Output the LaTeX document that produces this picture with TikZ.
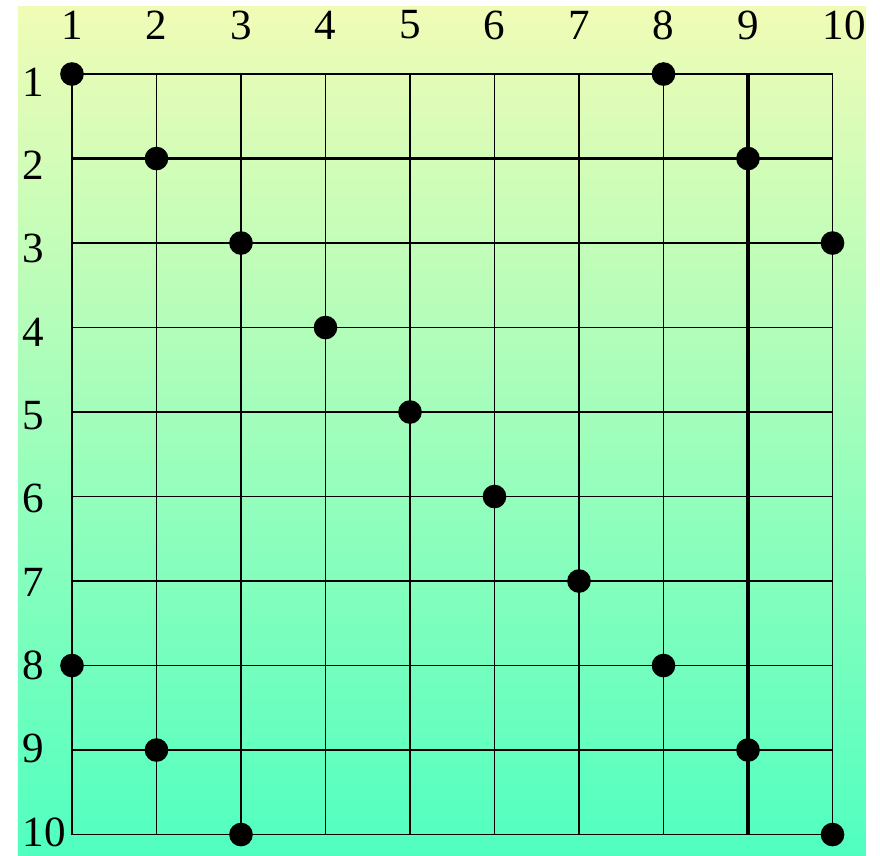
\documentclass[tikz,border=0pt]{standalone}
\usepackage{fontspec}
\setmainfont{Liberation Serif}
\usetikzlibrary{positioning}
\definecolor{bgtop}{RGB}{240,252,182}
\definecolor{bgbottom}{RGB}{80,255,192}

\begin{document}
\begin{tikzpicture}[x=1cm, y=-1cm]
\tikzstyle{gridline}=[line width=0.6pt, black]
\tikzstyle{heavy}=[line width=1.3pt, black]
\tikzstyle{queen}=[circle, fill=black, inner sep=0pt, minimum size=0.28cm]
\tikzstyle{lbl}=[font=\fontsize{14.5}{17}\selectfont, inner sep=0pt]

\useasboundingbox (-0.852,-0.876) rectangle (9.562,9.243);
\shade[top color=bgtop, bottom color=bgbottom] (-0.639,-0.805) rectangle (9.396,9.243);

% board
\foreach \i in {0,...,9} {
  \draw[gridline] (\i,0) -- (\i,9);
  \draw[gridline] (0,\i) -- (9,\i);
}
\draw[heavy] (0,1) -- (9,1);
\draw[heavy] (8,0) -- (8,9);

% numbering
\foreach \i in {1,...,10} {
  \node[lbl] (col\i) at ({\i-1+(\i==10)*0.14},-0.58) {\i};
  \node[lbl, anchor=west] (row\i) at (-0.59,{\i-1+0.11-0.014*\i}) {\i};
}

% queens
\foreach \c/\r in {1/1,8/1,2/2,9/2,3/3,10/3,4/4,5/5,6/6,7/7,1/8,8/8,2/9,9/9,3/10,10/10}
  \node[queen] (q\c-\r) at (\c-1,\r-1) {};
\end{tikzpicture}
\end{document}
